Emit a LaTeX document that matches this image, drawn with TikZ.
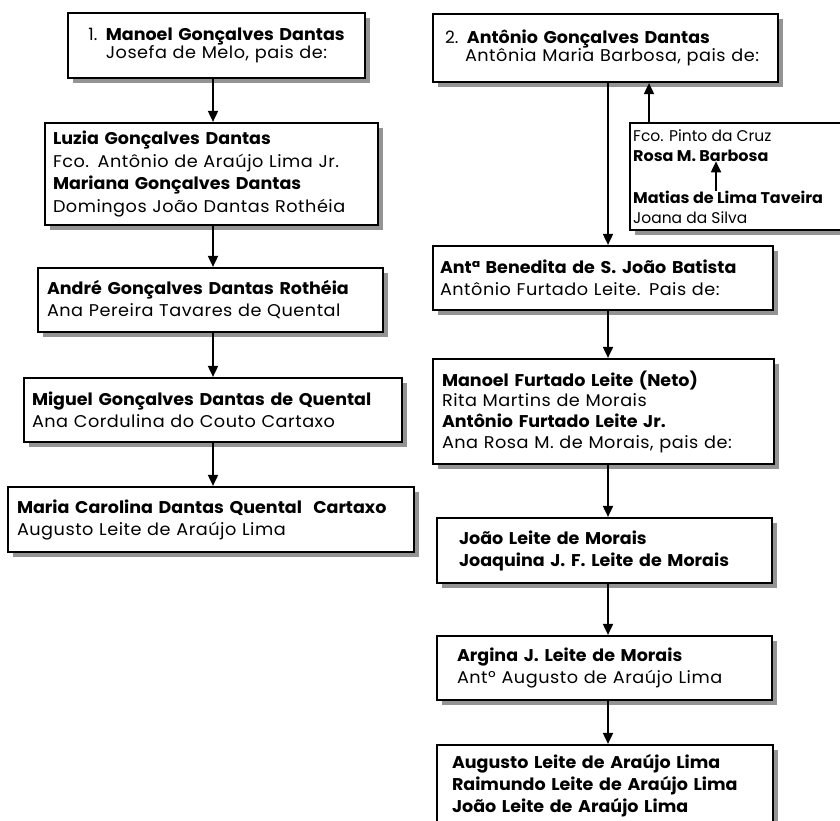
\documentclass[tikz,border=0pt]{standalone}
\usepackage{fontspec}
\setmainfont{Poppins}[BoldFeatures={FakeStretch=1.03}]
\newfontfamily\leve[LetterSpace=3,WordSpace=2.2,FakeStretch=1.04]{Poppins}
\usetikzlibrary{arrows.meta}

\tikzset{
  caixa/.style={draw, line width=2.2pt, fill=white, rectangle, inner ysep=0pt,
    preaction={draw=none, fill=black!42,
      transform canvas={shift={(4.5pt,-4.5pt)}}},
    align=left, font=\fontsize{17}{22}\selectfont},
  texto/.style={inner sep=0pt, align=left, font=\fontsize{15.5}{20}\selectfont},
  seta/.style={line width=1.8pt, -{Triangle[width=10pt,length=11pt]}},
}
\newcommand{\nome}[1]{\textbf{#1}}

\begin{document}
\begin{tikzpicture}[x=1pt,y=1pt]
  \useasboundingbox (0,0) rectangle (840,-820);
  % coluna da esquerda
  \node[caixa, align=center, minimum width=297pt, minimum height=65pt,
    text width=281pt, inner xsep=8pt,
    font=\fontsize{17}{18.5}\selectfont] (L1) at (216.5,-45.5)
    {1. \nome{Manoel Gonçalves Dantas}\\{\leve Josefa de Melo, pais de:}};
  \node[caixa, minimum width=333pt, minimum height=102pt,
    text width=317pt, inner xsep=8pt,
    font=\fontsize{17}{22.5}\selectfont] (L2) at (211.5,-174)
    {\nome{Luzia Gonçalves Dantas}\\{\leve Fco. Antônio de Araújo Lima Jr.}\\
     \nome{Mariana Gonçalves Dantas}\\{\leve Domingos João Dantas Rothéia}};
  \node[caixa, minimum width=345pt, minimum height=64pt,
    text width=327pt, inner xsep=9pt] (L3) at (210.5,-300)
    {\nome{André Gonçalves Dantas Rothéia}\\{\leve Ana Pereira Tavares de Quental}};
  \node[caixa, minimum width=378pt, minimum height=64pt,
    text width=362pt, inner xsep=8pt] (L4) at (213,-410)
    {\nome{Miguel Gonçalves Dantas de Quental}\\{\leve Ana Cordulina do Couto Cartaxo}};
  \node[caixa, minimum width=406pt, minimum height=65pt,
    text width=388pt, inner xsep=9pt] (L5) at (211,-519.5)
    {\mbox{\nome{Maria Carolina Dantas Quental\ \ Cartaxo}}\\{\leve Augusto Leite de Araújo Lima}};

  % coluna da direita
  \node[caixa, minimum width=345pt, minimum height=68pt,
    text width=321pt, inner xsep=12pt,
    font=\fontsize{17}{18.5}\selectfont] (R1) at (605.5,-48)
    {2. \nome{Antônio Gonçalves Dantas}\\\hspace*{20pt}{\leve Antônia Maria Barbosa, pais de:}};
  \node[caixa, minimum width=230pt, minimum height=107pt] (lado) at (745,-176.5) {};
  \node[texto, anchor=north west] (ladoA) at (633,-129)
    {Fco. Pinto da Cruz\\\nome{Rosa M. Barbosa}};
  \node[texto, anchor=south west] (ladoB) at (633,-224)
    {\nome{Matias de Lima Taveira}\\Joana da Silva};
  \node[caixa, minimum width=340pt, minimum height=64pt,
    text width=326pt, inner xsep=7pt] (R2) at (603,-278)
    {\nome{Antª Benedita de S. João Batista}\\{\leve Antônio Furtado Leite. Pais de:}};
  \node[caixa, minimum width=341pt, minimum height=105pt,
    text width=323pt, inner xsep=9pt,
    font=\fontsize{17}{20.7}\selectfont] (R3) at (603.5,-411.5)
    {\nome{Manoel Furtado Leite (Neto)}\\{\leve Rita Martins de Morais}\\
     \nome{Antônio Furtado Leite Jr.}\\{\leve Ana Rosa M. de Morais, pais de:}};
  \node[caixa, minimum width=335pt, minimum height=65pt,
    text width=291pt, inner xsep=22pt] (R4) at (604.5,-550.5)
    {\nome{João Leite de Morais}\\\nome{Joaquina J. F. Leite de Morais}};
  \node[caixa, minimum width=335pt, minimum height=64pt,
    text width=295pt, inner xsep=20pt] (R5) at (604.5,-668)
    {\nome{Argina J. Leite de Morais}\\{\leve Antº Augusto de Araújo Lima}};
  \node[caixa, minimum width=336pt, minimum height=81pt,
    text width=306pt, inner xsep=15pt] (R6) at (605,-785.5)
    {\nome{Augusto Leite de Araújo Lima}\\\nome{Raimundo Leite de Araújo Lima}\\
     \nome{João Leite de Araújo Lima}};

  \coordinate (colE) at (213,0);
  \coordinate (colD) at (608,0);
  \coordinate (colL) at (649,0);
  \coordinate (colI) at (716,0);
  \begin{scope}[seta]
    \draw (L1.south -| colE) -- (L2.north -| colE);
    \draw (L2.south -| colE) -- (L3.north -| colE);
    \draw (L3.south -| colE) -- (L4.north -| colE);
    \draw (L4.south -| colE) -- (L5.north -| colE);
    \draw (R1.south -| colD) -- (R2.north -| colD);
    \draw (R2.south -| colD) -- (R3.north -| colD);
    \draw (R3.south -| colD) -- (R4.north -| colD);
    \draw (R4.south -| colD) -- (R5.north -| colD);
    \draw (R5.south -| colD) -- (R6.north -| colD);
    \draw (lado.north -| colL) -- (R1.south -| colL);
    \draw (ladoB.north -| colI) -- (ladoA.south -| colI);
  \end{scope}
\end{tikzpicture}
\end{document}
